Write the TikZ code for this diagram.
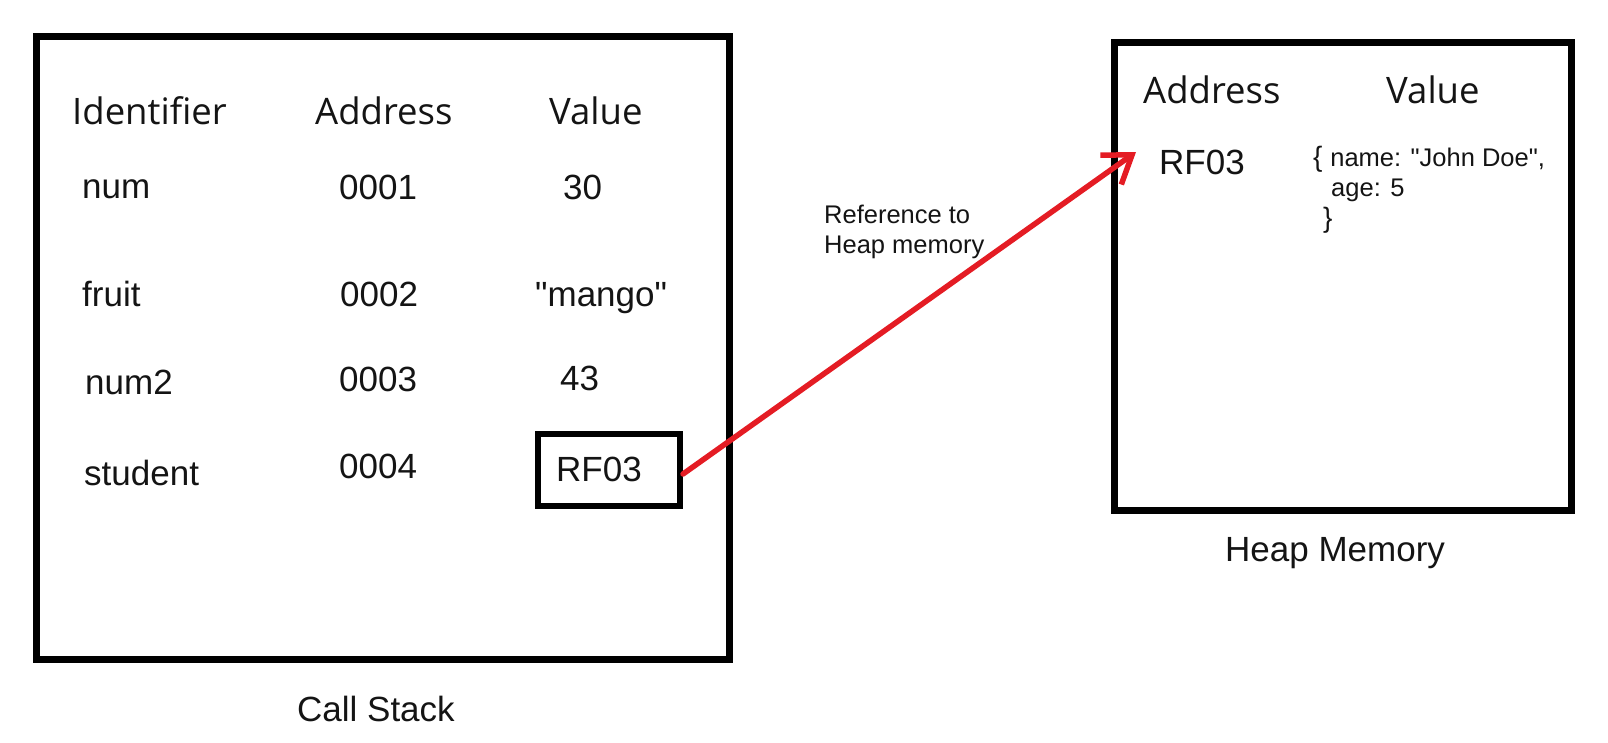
\documentclass[tikz,border=0pt]{standalone}
\usepackage{fontspec}
\setmainfont{Liberation Sans}
\newfontfamily\hdrfont{Open Sans}
\usetikzlibrary{arrows.meta}
\definecolor{refred}{RGB}{228,28,36}
\definecolor{ink}{RGB}{20,20,20}
% straight double quote, taken by glyph name so no quote mapping applies
\newcommand{\dq}{\XeTeXglyph\XeTeXglyphindex "quotedbl"\relax}
\tikzset{
  frame/.style={draw=black, line width=7pt, inner sep=0pt},
  cellbox/.style={draw=black, line width=6pt, inner sep=0pt},
  hdr/.style={anchor=base west, inner sep=0pt, text=ink, font=\hdrfont\fontsize{36.5}{40}\selectfont},
  cell/.style={anchor=base west, inner sep=0pt, text=ink, font=\fontsize{35}{40}\selectfont},
  small/.style={anchor=base west, inner sep=0pt, text=ink, font=\fontsize{25.5}{30}\selectfont},
  refarrow/.style={draw=refred, line width=5.5pt, line cap=round,
    -{Straight Barb[length=26pt,width=36pt,line width=5.5pt]}}
}
\begin{document}
\begin{tikzpicture}[x=1pt,y=-1pt]
\useasboundingbox (0,0) rectangle (1608,742);

% call stack frame
\node[frame, minimum width=693pt, minimum height=623pt] (stack) at (382.5,347.5) {};
\node[hdr] (hid) at (72,124) {Identifier};
\node[hdr] (haddr) at (315,124) {Address};
\node[hdr] (hval) at (549,124) {Value};

\node[cell] (id1) at (82,198) {num};
\node[cell] (ad1) at (339,199) {0001};
\node[cell] (va1) at (563,199) {30};

\node[cell] (id2) at (82,306) {fruit};
\node[cell] (ad2) at (340,306) {0002};
\node[cell] (va2) at (535,306) {\dq mango\dq};

\node[cell] (id3) at (85,394) {num2};
\node[cell] (ad3) at (339,391) {0003};
\node[cell] (va3) at (560,390) {43};

\node[cell] (id4) at (84,485) {student};
\node[cell] (ad4) at (339,478) {0004};
\node[cellbox, minimum width=142pt, minimum height=72pt] (rfbox) at (609,470) {};
\node[cell] (va4) at (556,481) {RF03};

\node[cell] (stacklbl) at (297,721) {Call Stack};

% heap
\node[frame, minimum width=457pt, minimum height=468pt] (heap) at (1342.5,276) {};
\node[hdr] (hhaddr) at (1143,103) {Address};
\node[hdr] (hhval) at (1386,103) {Value};
\node[cell] (hrf) at (1159,174) {RF03};
\node[small] (obj1) at (1313,166) {\fontsize{28}{30}\selectfont\{ \fontsize{25.5}{30}\selectfont name: \dq John Doe\dq,};
\node[small] (obj2) at (1331,196) {age: 5};
\node[small] (obj3) at (1323,227) {\fontsize{28}{30}\selectfont\}};
\node[cell] (heaplbl) at (1225,561) {Heap Memory};

% reference arrow
\node[small] (ref1) at (824,223) {Reference to};
\node[small] (ref2) at (824,253) {Heap memory};
\coordinate (tip) at (1136,152);
\draw[refarrow] ([yshift=-4pt]rfbox.east) -- (tip);
\end{tikzpicture}
\end{document}
